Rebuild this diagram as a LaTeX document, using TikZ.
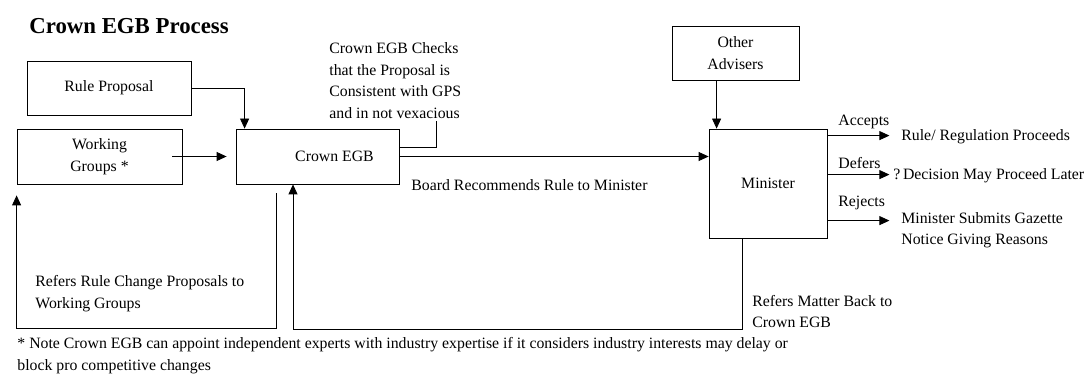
\documentclass[tikz,border=0pt]{standalone}
\usepackage{fontspec}
\setmainfont{Liberation Serif}
\usetikzlibrary{arrows.meta,calc,positioning}
\tikzset{
    line width=0.5pt,
    state/.style ={rectangle, draw, inner sep=0pt, align=center},
    txt/.style = {inner sep=0pt, align=left, anchor=west},
    arr/.style = {-{Triangle[length=5pt,width=4.5pt]}}
}

\begin{document}
\begin{tikzpicture}[x=0.5pt,y=-0.5pt,font=\fontsize{7.9}{10.75}\selectfont]
  \useasboundingbox (0,0) rectangle (1088,374);
  \node (T) at (29,26) [txt, font=\fontsize{11.4}{13}\selectfont\bfseries] {Crown EGB Process};

  \node (RP) at (109,88) [state, minimum width=82pt, minimum height=27pt] {Rule Proposal};
  \node (WG) at (99.5,156.5) [state, minimum width=82.5pt, minimum height=27.5pt] {Working\\Groups *};
  \node (EGB) at (317.5,156.5) [state, minimum width=81.5pt, minimum height=27.5pt] {\hspace*{17pt}Crown EGB};
  \node (ADV) at (735.5,53) [state, minimum width=63.5pt, minimum height=27pt] {Other\\Advisers};
  \node (MIN) at (768,183.5) [state, minimum width=59pt, minimum height=54.5pt] {Minister};

  \node (CK) at (329,80.5) [txt] {Crown EGB Checks\\that the Proposal is\\Consistent with GPS\\and in not vexacious};
  \node (BR) at (411,185) [txt] {Board Recommends Rule to Minister};
  \node (ACC) at (838,122) [txt] {Accepts};
  \node (DEF) at (838,163) [txt] {Defers};
  \node (REJ) at (838,203) [txt] {Rejects};
  \node (OA) at (901,137) [txt] {Rule/ Regulation Proceeds};
  \node (OD) at (893,176) [txt] {?\,Decision May Proceed Later};
  \node (OR) at (901,230) [txt] {Minister Submits Gazette\\Notice Giving Reasons};
  \node (RW) at (35,293.5) [txt] {Refers Rule Change Proposals to\\Working Groups};
  \node (RM) at (752,311.5) [txt] {Refers Matter Back to\\Crown EGB};
  \node (FN) at (17,355.5) [txt] {* Note Crown EGB can appoint independent experts with industry expertise if it considers industry interests may delay or\\block pro competitive changes};

  \coordinate (CKend) at (436,121);
  \coordinate (ADVin) at ([xshift=4pt]MIN.north west);
  \coordinate (WGin) at ([yshift=-5.5pt]WG.south west);
  \coordinate (EGBout) at ([xshift=-20.75pt,yshift=-4.5pt]EGB.south);
  \coordinate (EGBin) at ([xshift=-12.25pt]EGB.south);

  \draw[arr] (RP.east) -| ([xshift=4.5pt]EGB.north west);
  \draw[arr] ([xshift=-5pt]WG.east) -- ([xshift=-4.5pt]EGB.west);
  \draw ([yshift=4.75pt]EGB.east) -| (CKend);
  \draw[arr] (EGB.east) -- (EGB.east -| MIN.west);
  \draw[arr] (ADV.south -| ADVin) -- (ADVin);
  % Accepts / Defers / Rejects
  \foreach \dy in {3.5, 23, 46} {
    \draw[arr] ([yshift=-\dy pt]MIN.north east) -- ++(31pt,0);
  }
  \draw[arr] (EGBout) -- ++(0,135) -| (WGin);
  \draw[arr] ([xshift=-13pt]MIN.south) -- ++(0,91) -| (EGBin);

\end{tikzpicture}
\end{document}
